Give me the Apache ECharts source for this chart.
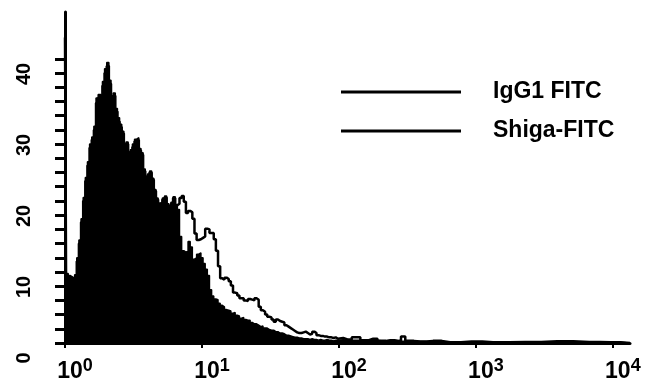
<!DOCTYPE html>
<html>
<head>
<meta charset="utf-8">
<script src="https://cdn.jsdelivr.net/npm/echarts@6/dist/echarts.min.js"></script>
<style>
  html, body { margin: 0; padding: 0; background: #fff; }
  #chart { width: 661px; height: 388px; }
</style>
</head>
<body>
<div id="chart"></div>
<script>
// Fluorescence histogram, 256 channels over 4 log decades (64 channels per decade).
const CHANNELS_PER_DECADE = 64;
const decadeExponents = [0, 1, 2, 3, 4];
const countTicks = [0, 2, 4, 6, 8, 10, 12, 14, 16, 18, 20, 22, 24, 26, 28, 30, 32, 34, 36, 38, 40];
const countLabels = [0, 10, 20, 30, 40];
const seriesNames = ['IgG1 FITC', 'Shiga-FITC'];

// Events per channel, channels 0..127
const igg1Counts = [
  44, 9.8, 9.5, 9.3, 9.1, 9.6, 12, 14.5, 17.5, 20.5,
  23.3, 25.5, 28, 29, 30.5, 34.5, 35, 34.8, 36.8, 38.6,
  39.5, 37, 34.5, 35.2, 33, 31.7, 30.8, 29.8, 28, 28.3,
  26.9, 27.2, 28, 28.7, 28.9, 27.4, 26.8, 24.5, 23.4, 23.8,
  24.2, 23.2, 21.6, 20.4, 19.7, 19.8, 20.4, 20.7, 19.6, 19.2,
  19.8, 20.6, 19.5, 18.8, 15, 13, 12.8, 12.9, 14.3, 13.5,
  11.8, 12, 12.5, 12.7, 12, 11.2, 10.4, 9.5, 7.5, 6.6,
  6.2, 6.1, 5.6, 5.3, 5.1, 4.7, 4.6, 4.5, 4.2, 4.3,
  3.9, 3.8, 3.5, 3.6, 3.3, 3.2, 3.2, 2.9, 2.7, 2.7,
  2.5, 2.3, 2.4, 2.1, 2.1, 1.9, 1.8, 1.8, 1.6, 1.6,
  1.4, 1.4, 1.3, 1.1, 1.1, 1.0, 0.9, 0.8, 0.8, 0.7,
  0.7, 0.6, 0.6, 0.6, 0.5, 0.6, 0.5, 0.5, 0.4, 0.5,
  0.4, 0.4, 0.5, 0.4, 0.4, 0.3, 0.4, 0.4
];
const shigaCounts = [
  43, 9.5, 9.2, 9, 8.8, 9.2, 11.5, 14, 17, 20,
  22.8, 25, 27.5, 28.6, 30, 33.8, 34.5, 34.2, 36.2, 38,
  39, 36.5, 34, 34.8, 32.6, 31.2, 30.4, 29.5, 27.6, 28,
  26.5, 26.9, 27.6, 28.4, 28.6, 27.1, 26.5, 24.2, 23.1, 23.5,
  24, 23, 21.4, 20.2, 19.5, 19.6, 20.2, 20.5, 19.4, 19,
  19.6, 20.4, 19.4, 19.6, 20.4, 20.7, 19.9, 18.3, 18.6, 18.4,
  17.5, 15.4, 14.5, 14.6, 14.8, 15, 16.1, 16, 15.5, 15.5,
  14.6, 13, 10.8, 9.1, 8.9, 9.2, 9, 8.7, 8.1, 7.1,
  7, 6.7, 6.3, 6.3, 6, 5.9, 6.2, 6.1, 6, 6.3,
  6.1, 5.1, 4.6, 4.4, 4, 3.7, 3.6, 3.3, 3, 3.3,
  3.1, 3, 2.9, 2.5, 2.3, 2.1, 1.9, 1.7, 1.5, 1.4,
  1.4, 1.5, 1.6, 1.4, 1.2, 1.3, 1.6, 1.4, 1.1, 1,
  1, 0.9, 0.9, 0.8, 0.8, 0.7, 0.8, 0.6
];

// Sparse upper channels (bright tail)
const tailChannels = [128, 132, 136, 140, 144, 148, 152, 156, 158, 160, 166, 172, 180, 190, 200, 215, 230, 245, 255, 264];
const igg1Tail = [0.45, 0.4, 0.4, 0.35, 0.35, 0.3, 0.3, 0.25, 0.25, 0.25, 0.2, 0.2, 0.15, 0.15, 0.1, 0.1, 0.15, 0.1, 0.1, 0];
const shigaTail = [0.7, 0.5, 0.8, 0.4, 0.6, 0.3, 0.4, 0.3, 0.9, 0.3, 0.2, 0.3, 0.1, 0.2, 0.1, 0.15, 0.25, 0.15, 0.1, 0];

function toPoints(counts, tailCh, tailCounts) {
  const pts = counts.map((c, ch) => [ch / CHANNELS_PER_DECADE, c]);
  tailCh.forEach((ch, k) => pts.push([ch / CHANNELS_PER_DECADE, tailCounts[k]]));
  return pts;
}

const FONT = 'Liberation Sans, Arial, sans-serif';
const chart = echarts.init(document.getElementById('chart'), null, { renderer: 'canvas' });

chart.setOption({
  animation: false,
  backgroundColor: '#fff',
  grid: { left: 65, right: 31, top: 12, bottom: 45, containLabel: false, outerBoundsMode: 'none' },
  legend: {
    orient: 'vertical',
    left: 341,
    top: 79,
    padding: 0,
    icon: 'rect',
    itemWidth: 120,
    itemHeight: 3,
    itemGap: 13,
    selectedMode: false,
    data: seriesNames,
    itemStyle: { color: '#000' },
    textStyle: {
      fontFamily: FONT, fontWeight: 'bold', fontSize: 23, color: '#000',
      lineHeight: 26, padding: [0, 0, 0, 27]
    }
  },
  xAxis: {
    type: 'value',
    min: 0,
    max: 4.125,
    splitLine: { show: false },
    axisLine: { show: true, lineStyle: { color: '#000', width: 3 } },
    axisTick: { show: true, customValues: decadeExponents, inside: false, length: 5, lineStyle: { color: '#000', width: 2 } },
    axisLabel: {
      customValues: decadeExponents,
      margin: 14,
      padding: [0, 0, 0, 20],
      formatter: v => '{b|10}{s|' + v + '}',
      rich: {
        b: { fontFamily: FONT, fontWeight: 'bold', fontSize: 23, color: '#000', lineHeight: 26, verticalAlign: 'bottom' },
        s: { fontFamily: FONT, fontWeight: 'bold', fontSize: 18, color: '#000', lineHeight: 18, verticalAlign: 'top' }
      }
    }
  },
  yAxis: {
    type: 'value',
    min: 0,
    max: 46.6,
    splitLine: { show: false },
    axisLine: { show: true, lineStyle: { color: '#000', width: 3 } },
    axisTick: { show: true, customValues: countTicks, inside: false, length: 10, lineStyle: { color: '#000', width: 3 } },
    axisLabel: {
      customValues: countLabels,
      rotate: 90,
      margin: 31,
      padding: [0, 30, 0, 0],
      fontFamily: FONT, fontWeight: 'bold', fontSize: 20, color: '#000'
    }
  },
  series: [
    {
      name: seriesNames[0],
      type: 'line',
      step: 'middle',
      symbol: 'none',
      silent: true,
      data: toPoints(igg1Counts, tailChannels, igg1Tail),
      itemStyle: { color: '#000' },
      lineStyle: { color: '#000', width: 1.5 },
      areaStyle: { color: '#000', opacity: 1 }
    },
    {
      name: seriesNames[1],
      type: 'line',
      step: 'middle',
      symbol: 'none',
      silent: true,
      data: toPoints(shigaCounts, tailChannels, shigaTail),
      itemStyle: { color: '#000' },
      lineStyle: { color: '#000', width: 2.5 }
    }
  ]
});
</script>
</body>
</html>
